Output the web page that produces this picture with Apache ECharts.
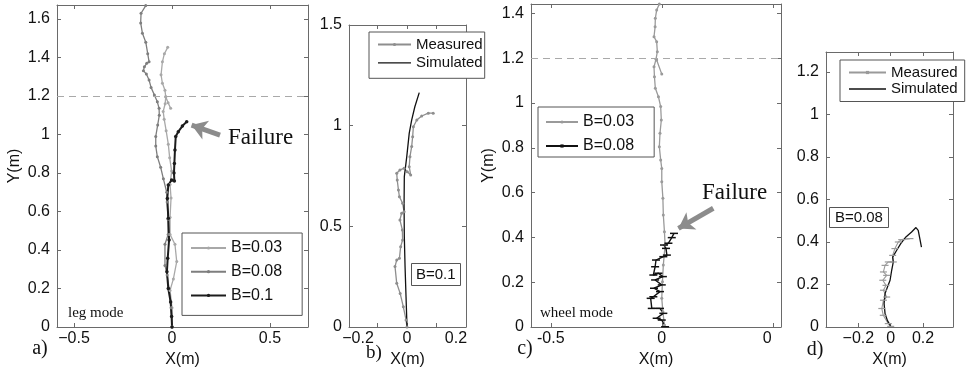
<!DOCTYPE html>
<html><head><meta charset="utf-8">
<script src="https://cdn.jsdelivr.net/npm/echarts@6/dist/echarts.min.js"></script>
<style>html,body{margin:0;padding:0;background:#fff}#c{width:974px;height:373px}</style>
</head><body><div id="c"></div>
<script>
// ---------- Panel a (leg mode) ----------
const aB003 = [[0,0],[0.0,0.1],[-0.01,0.19],[0.007,0.25],[0.024,0.34],[0.015,0.43],[-0.01,0.48],[-0.01,0.57],[-0.005,0.67],[-0.01,0.74],[-0.002,0.81],[-0.012,0.88],[-0.019,0.95],[-0.03,1.02],[-0.04,1.08],[-0.045,1.12],[-0.035,1.16],[-0.032,1.196],[-0.036,1.23],[-0.049,1.266],[-0.056,1.31],[-0.049,1.378],[-0.039,1.42],[-0.022,1.453],'-',[-0.032,1.196],[-0.02,1.165],[-0.007,1.136]];
const aB008 = [[0,0],[-0.005,0.1],[-0.015,0.2],[-0.025,0.27],[-0.036,0.32],[-0.036,0.43],[-0.02,0.48],[-0.02,0.56],[-0.025,0.65],[-0.027,0.70],[-0.044,0.77],[-0.058,0.83],[-0.075,0.885],[-0.083,0.94],[-0.083,0.99],[-0.073,1.05],[-0.065,1.10],[-0.066,1.136],[-0.075,1.17],[-0.09,1.205],[-0.107,1.245],[-0.117,1.283],[-0.131,1.314],[-0.146,1.332],[-0.141,1.352],[-0.129,1.37],[-0.117,1.378],[-0.124,1.42],[-0.134,1.48],[-0.151,1.526],[-0.16,1.58],[-0.158,1.63],[-0.134,1.67]];
const aB01 = [[0,0],[-0.002,0.054],[-0.007,0.13],[-0.019,0.2],[-0.026,0.287],[-0.022,0.357],[-0.015,0.452],[-0.019,0.565],[-0.024,0.668],[-0.019,0.738],[-0.002,0.764],[0.012,0.758],[0.01,0.8],[0.012,0.85],[0.015,0.92],[0.019,0.99],[0.032,1.015],[0.053,1.044],[0.075,1.067]];
const aXTicks = [-0.5, 0, 0.5];
const aYTicks = [0, 0.2, 0.4, 0.6, 0.8, 1, 1.2, 1.4, 1.6];
const aArrow = [[0.245, 0.997], [0.1, 1.049]];
const refLine = 1.2;

// ---------- Panel b (B=0.1 measured vs simulated) ----------
const bMeasured = [[0,0],[-0.004,0.035],[-0.015,0.10],[-0.028,0.167],[-0.042,0.217],[-0.049,0.30],[-0.042,0.333],[-0.031,0.341],[-0.026,0.399],[-0.018,0.432],[-0.019,0.482],[-0.029,0.532],[-0.022,0.565],[-0.012,0.573],[-0.018,0.615],[-0.031,0.647],[-0.035,0.681],[-0.04,0.73],[-0.042,0.764],[-0.029,0.78],[-0.012,0.788],[0.001,0.771],[0.015,0.755],[0.009,0.796],[0.012,0.846],[0.019,0.896],[0.023,0.945],[0.026,0.995],[0.04,1.028],[0.06,1.048],[0.087,1.062],[0.107,1.062]];
const bSimulated = [[0,0],[-0.004,0.15],[-0.008,0.30],[-0.011,0.45],[-0.012,0.61],[-0.011,0.747],[-0.001,0.846],[0.009,0.962],[0.019,1.028],[0.032,1.094],[0.05,1.164]];
const bXTicks = [-0.12, 0, 0.12];
const bXLabels = [-0.2, 0, 0.2];
const bYTicks = [0, 0.5, 1, 1.5];

// ---------- Panel c (wheel mode) ----------
const cB003 = [[0.012,0.009],[0.005,0.068],[0,0.128],[0.003,0.202],[0.007,0.277],[0.015,0.366],[0.012,0.425],[0.007,0.5],[0.005,0.575],[0,0.649],[0,0.708],[-0.005,0.746],[-0.011,0.805],[-0.008,0.865],[-0.002,0.924],[-0.005,0.984],[-0.015,1.028],[-0.029,1.066],[-0.033,1.117],[-0.035,1.162],[-0.026,1.195],[-0.02,1.229],[-0.023,1.274],[-0.035,1.296],[-0.030,1.34],[-0.029,1.378],[-0.023,1.415],[-0.011,1.442],'-',[-0.023,1.192],[0,1.129]];
const cB008 = [[0.015,0.001],[0,0.031],[-0.023,0.039],[0.007,0.061],[-0.008,0.083],[-0.045,0.083],[-0.05,0.128],[-0.038,0.135],[-0.008,0.158],[-0.035,0.173],[0,0.188],[-0.03,0.21],[0.005,0.225],[-0.015,0.24],[-0.038,0.232],[-0.03,0.269],[-0.026,0.299],[0.007,0.314],[0.023,0.321],[0.019,0.351],[0.01,0.366],[0.03,0.374],[0.045,0.399],[0.055,0.418]];
const cXTicks = [-0.5, 0, 0.5];
const cYTicks = [0, 0.2, 0.4, 0.6, 0.8, 1, 1.2, 1.4];
const cArrow = [[0.232, 0.53], [0.075, 0.44]];

// ---------- Panel d (B=0.08 measured vs simulated) ----------
const dMeasured = [[0,0.003],[-0.015,0.016],[-0.046,0.055],[-0.055,0.087],[-0.045,0.126],[-0.025,0.141],[-0.045,0.173],[-0.029,0.196],[-0.049,0.22],[-0.025,0.243],[-0.045,0.259],[-0.035,0.29],[-0.015,0.306],[0.016,0.306],[0.012,0.337],[0.026,0.369],[0.047,0.4],[0.068,0.411],[0.119,0.416]];
const dSimulated = [[0,0.003],[-0.02,0.03],[-0.035,0.063],[-0.041,0.11],[-0.035,0.157],[-0.02,0.188],[-0.004,0.22],[0.006,0.267],[0.016,0.306],[0.012,0.329],[0.037,0.361],[0.062,0.392],[0.094,0.424],[0.129,0.447],[0.156,0.468],[0.17,0.455],[0.18,0.416],[0.19,0.376]];
const dXTicks = [-0.2, 0, 0.2];
const dYTicks = [0, 0.2, 0.4, 0.6, 0.8, 1, 1.2];

// ---------- build ----------
const SANS = '"Liberation Sans", Arial, sans-serif';
const SERIF = '"Liberation Serif", "Times New Roman", serif';
const FRAME = '#6a6a6a';
const grids = [
  {left:57, top:5, width:251, height:322},
  {left:349, top:25, width:117, height:302},
  {left:531, top:4, width:250, height:323},
  {left:826, top:52, width:127, height:275}
];
const ranges = [
  {x:[-0.587,0.694], y:[0,1.673]},
  {x:[-0.237,0.241], y:[0,1.5]},
  {x:[-0.589,0.537], y:[0,1.442]},
  {x:[-0.4,0.385],   y:[0,1.294]}
];
const minusFmt = v => v < 0 ? '\u2212' + Math.abs(v) : String(v);
const xSpec = [
  {ticks:aXTicks, labels:aXTicks, fmt:minusFmt, name:'X(m)'},
  {ticks:bXTicks, labels:bXLabels, fmt:minusFmt, name:'X(m)'},
  {ticks:cXTicks, labels:cXTicks, fmt:v => v===0.5 ? '{r|0}' : String(v), name:'X(m)'},
  {ticks:dXTicks, labels:dXTicks, fmt:minusFmt, name:'X(m)'}
];
const ySpec = [
  {ticks:aYTicks, name:'Y(m)'},
  {ticks:bYTicks, name:''},
  {ticks:cYTicks, name:'Y(m)'},
  {ticks:dYTicks, name:''}
];
const xAxes = [], yAxes = [];
grids.forEach((g, i) => {
  const lineStyle = {color: FRAME, width: 1};
  xAxes.push({
    type:'value', gridIndex:i, position:'bottom', min:ranges[i].x[0], max:ranges[i].x[1],
    axisLine:{show:true, onZero:false, lineStyle}, splitLine:{show:false},
    axisTick:{show:true, inside:true, length:4, customValues:xSpec[i].ticks, lineStyle},
    axisLabel:{show:true, customValues:xSpec[i].labels, formatter:xSpec[i].fmt, margin:4,
      color:'#111', fontSize:16, fontFamily:SANS, rich:{r:{fontSize:16, fontFamily:SANS, color:'#111', padding:[0,11,0,0]}}},
    name:xSpec[i].name, nameLocation:'middle', nameGap:17,
    nameTextStyle:{color:'#111', fontSize:16, fontFamily:SANS}
  });
  xAxes.push({
    type:'value', gridIndex:i, position:'top', min:ranges[i].x[0], max:ranges[i].x[1],
    axisLine:{show:true, onZero:false, lineStyle}, splitLine:{show:false},
    axisTick:{show:true, inside:true, length:4, customValues:xSpec[i].ticks, lineStyle},
    axisLabel:{show:false}
  });
  yAxes.push({
    type:'value', gridIndex:i, position:'left', min:ranges[i].y[0], max:ranges[i].y[1],
    axisLine:{show:true, onZero:false, lineStyle}, splitLine:{show:false},
    axisTick:{show:true, inside:true, length:4, customValues:ySpec[i].ticks, lineStyle},
    axisLabel:{show:true, customValues:ySpec[i].ticks, margin:7, color:'#111', fontSize:16, fontFamily:SANS},
    name:ySpec[i].name, nameLocation:'middle', nameGap:34,
    nameTextStyle:{color:'#111', fontSize:16, fontFamily:SANS}
  });
  yAxes.push({
    type:'value', gridIndex:i, position:'right', min:ranges[i].y[0], max:ranges[i].y[1],
    axisLine:{show:true, onZero:false, lineStyle}, splitLine:{show:false},
    axisTick:{show:true, inside:true, length:4, customValues:ySpec[i].ticks, lineStyle},
    axisLabel:{show:false}
  });
});

function line(name, panel, data, color, width, symbol, symbolSize, extra) {
  return Object.assign({
    type:'line', name, xAxisIndex:panel*2, yAxisIndex:panel*2, data,
    connectNulls:false, smooth:false, animation:false, clip:true,
    symbol, symbolSize, showSymbol: symbol !== 'none',
    lineStyle:{color, width}, itemStyle:{color}, emphasis:{disabled:true}
  }, extra || {});
}
const dashed = refV => ({
  silent:true, symbol:['none','none'], label:{show:false}, animation:false,
  lineStyle:{type:[7,5], color:'#a9a9a9', width:1.2},
  data:[{yAxis:refV}]
});
const arrow = pts => ({
  silent:true, symbol:['none','arrow'], symbolSize:[15,15], label:{show:false}, animation:false,
  lineStyle:{type:'solid', color:'#8c8c8c', width:5},
  data:[[{coord:pts[0]},{coord:pts[1]}]]
});

const series = [
  line('a:B=0.03', 0, aB003, '#a8a8a8', 1.3, 'circle', 3, {markLine:dashed(refLine)}),
  line('a:B=0.08', 0, aB008, '#7e7e7e', 1.3, 'circle', 3),
  line('a:B=0.1', 0, aB01, '#1c1c1c', 2, 'circle', 3.5, {markLine:arrow(aArrow)}),
  line('b:Measured', 1, bMeasured, '#8e8e8e', 1.3, 'circle', 3),
  line('b:Simulated', 1, bSimulated, '#111', 1.3, 'none', 0),
  line('c:B=0.03', 2, cB003, '#9a9a9a', 1.3, 'circle', 3, {markLine:dashed(refLine)}),
  line('c:B=0.08', 2, cB008, '#111', 1.4, 'rect', [8,1.5], {markLine:arrow(cArrow)}),
  line('d:Measured', 3, dMeasured, '#9a9a9a', 1.1, 'rect', [7,1.2]),
  line('d:Simulated', 3, dSimulated, '#111', 1.3, 'none', 0)
];

const strip = n => n.slice(2);
const plainLine = 'path://M0,0 L100,0 L100,4 L0,4 Z';
const legendBase = {
  orient:'vertical', show:true, selectedMode:false, backgroundColor:'#fff',
  borderColor:'#555', borderWidth:1, borderRadius:0, itemHeight:4, align:'left',
  formatter:strip, inactiveColor:'#111', symbolKeepAspect:true
};
const legends = [
  Object.assign({}, legendBase, {data:['a:B=0.03','a:B=0.08','a:B=0.1'], left:182, top:233,
    padding:[7,20,12,8], itemGap:7.7, itemWidth:35,
    textStyle:{fontSize:16, fontFamily:SANS, color:'#111'}}),
  Object.assign({}, legendBase, {data:['b:Measured',{name:'b:Simulated', icon:plainLine}], left:369, top:32,
    padding:[5,2,8,8], itemGap:3.3, itemWidth:33,
    textStyle:{fontSize:15, fontFamily:SANS, color:'#111'}}),
  Object.assign({}, legendBase, {data:['c:B=0.03','c:B=0.08'], left:538, top:107,
    padding:[7,20,3,7], itemGap:8, itemWidth:32,
    textStyle:{fontSize:16, fontFamily:SANS, color:'#111'}}),
  Object.assign({}, legendBase, {data:['d:Measured',{name:'d:Simulated', icon:plainLine}], left:840, top:60,
    padding:[5,7,5,8], itemGap:1.5, itemWidth:37,
    textStyle:{fontSize:15, fontFamily:SANS, color:'#111'}})
];

const boxTitle = (text, left, top, pad) => ({
  text, left, top, padding:pad, borderWidth:1, borderColor:'#555', backgroundColor:'#fff',
  textStyle:{fontSize:15, fontWeight:'normal', fontFamily:SANS, color:'#111'}
});
const titles = [
  boxTitle('B=0.1', 411, 263, [4,5,4,5]),
  boxTitle('B=0.08', 829, 207, [3,6,3,6])
];

const txt = (text, x, y, size, align) => ({
  type:'text', x, y, silent:true,
  style:{text, fill:'#111', font: size + 'px ' + SERIF, textAlign:align||'left', textVerticalAlign:'middle'}
});
const graphics = [
  txt('Failure', 228, 138, 23),
  txt('Failure', 702, 193, 23),
  txt('leg mode', 68, 313, 15),
  txt('wheel mode', 540, 313, 15),
  txt('a)', 40, 349, 20, 'center'),
  txt('b)', 374, 353, 19, 'center'),
  txt('c)', 525, 349, 20, 'center'),
  txt('d)', 815, 350, 20, 'center')
];

const chart = echarts.init(document.getElementById('c'), null, {renderer:'canvas'});
chart.setOption({
  animation:false,
  backgroundColor:'#fff',
  grid: grids.map(g => Object.assign({containLabel:false, outerBoundsMode:'none'}, g)),
  xAxis: xAxes,
  yAxis: yAxes,
  legend: legends,
  title: titles,
  graphic: graphics,
  series
});
</script></body></html>
